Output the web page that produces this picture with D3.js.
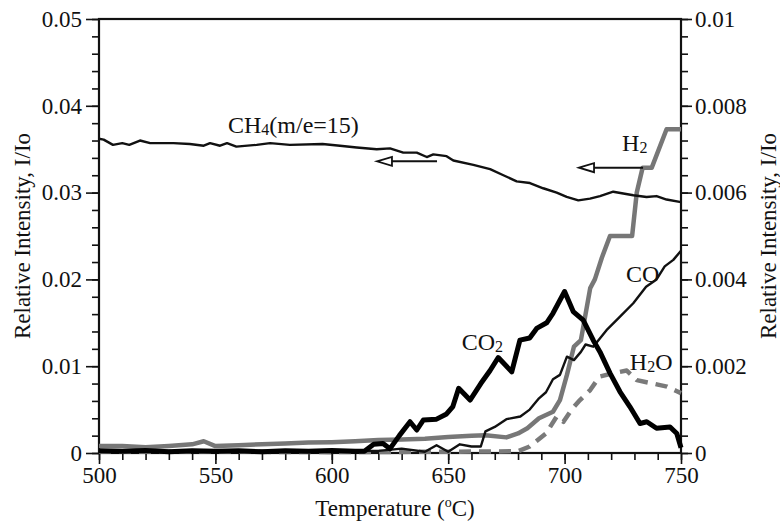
<!DOCTYPE html>
<html>
<head>
<meta charset="utf-8">
<script src="https://cdn.jsdelivr.net/npm/d3@7"></script>
<style>
body { margin: 0; background: #fff; }
text { font-family: "Liberation Serif", "Times New Roman", serif; fill: #111; }
</style>
</head>
<body>
<div id="chart"></div>
<script>
// size
var w = 780;
var h = 526;
var m = {left: 99, right: 99, top: 19, bottom: 73};

// tick values
var xTicks = [500, 550, 600, 650, 700, 750];
var leftTicks = [0, 0.01, 0.02, 0.03, 0.04, 0.05];
var rightTicks = [0, 0.002, 0.004, 0.006, 0.008, 0.01];

// CH4 (m/e=15), left axis: [temperature, I/Io]
var ch4 = [[500, 0.0362], [502, 0.0361], [506, 0.0355], [510, 0.0357], [513, 0.0355], [517.6, 0.036],
    [522, 0.0357], [532, 0.0357], [539, 0.0356], [545, 0.0354], [547.7, 0.0357], [552, 0.0354],
    [555, 0.0357], [559, 0.0353], [567.7, 0.0355], [573.5, 0.0357], [582, 0.0355], [596, 0.0356],
    [603.5, 0.0354], [610.7, 0.0352], [619.3, 0.035], [625, 0.0351], [630.7, 0.0346], [636.5, 0.0346],
    [640.8, 0.0341], [643.6, 0.0344], [649.3, 0.0342], [652.2, 0.0337], [660.8, 0.0332], [668, 0.0327],
    [673.7, 0.032], [679.4, 0.0313], [685.1, 0.0311], [690.8, 0.0305], [696.6, 0.03], [700.9, 0.0295],
    [705.9, 0.0291], [710.9, 0.0293], [715.2, 0.0296], [720.9, 0.0301], [725.2, 0.0299], [729.5, 0.0297],
    [735.2, 0.0295], [739.5, 0.0296], [743.8, 0.0292], [750, 0.0289]];

// H2, right axis
var h2 = [[500, 0.00016], [510, 0.00016], [520, 0.00013], [530, 0.00016], [540, 0.0002], [545, 0.00027],
    [550, 0.00016], [560, 0.00018], [570, 0.0002], [580, 0.00022], [590, 0.00024], [600, 0.00025],
    [610, 0.00027], [620, 0.0003], [630, 0.00031], [640, 0.00033], [650, 0.00037], [660, 0.0004],
    [666, 0.00041], [675, 0.00036], [680, 0.00045], [684, 0.00057], [689, 0.0008], [695, 0.00095],
    [698, 0.00122], [701, 0.0018], [704, 0.00245], [707, 0.0026], [709, 0.0032], [711, 0.0038],
    [713, 0.004], [716, 0.0045], [719.5, 0.005], [729, 0.005], [731, 0.006], [733.5, 0.00657],
    [737.4, 0.00657], [743.8, 0.00746], [750, 0.00746]];

// CO, right axis
var co = [[500, 0.00005], [520, 0.00004], [550, 0.00005], [580, 0.00004], [600, 0.00005], [620, 0.00005],
    [630, 0.0001], [640, 0.00003], [645, 0.00018], [650, 0.00003], [655, 0.0002], [660, 0.00015],
    [664, 0.00015], [666, 0.0005], [670, 0.0006], [675, 0.00078], [681, 0.00084], [685, 0.001],
    [689, 0.00126], [692, 0.0014], [695, 0.0017], [698, 0.0018], [701, 0.00222], [704, 0.00214],
    [707, 0.00233], [709, 0.0025], [712.3, 0.00245], [718, 0.00283], [723.8, 0.00314], [729.5, 0.00345],
    [735, 0.00383], [739.5, 0.004], [743, 0.0043], [746.7, 0.00445], [750, 0.00466]];

// CO2, right axis
var co2 = [[500, 0.00005], [510, 0.00004], [520, 0.00006], [530, 0.00003], [540, 0.00005], [550, 0.00004],
    [560, 0.00005], [570, 0.00003], [580, 0.00005], [590, 0.00004], [600, 0.00006], [610, 0.00004],
    [614, 0.00004], [618, 0.0002], [622, 0.00022], [625, 0.0001], [629, 0.0004], [633.6, 0.00072],
    [636.5, 0.00053], [639.3, 0.00076], [645, 0.00078], [649.3, 0.0009], [652, 0.00107], [654.5, 0.00149],
    [659.4, 0.00122], [664, 0.0016], [668, 0.0019], [671.5, 0.0022], [677.3, 0.00187], [680.8, 0.0026],
    [685, 0.00265], [688, 0.00287], [692.3, 0.003], [695, 0.00322], [700, 0.00372], [703.7, 0.00326],
    [708, 0.00306], [712.3, 0.0026], [715.2, 0.00233], [719.5, 0.00184], [723.8, 0.00141], [728, 0.00107],
    [732.4, 0.00068], [735.3, 0.00072], [739.5, 0.00057], [745.3, 0.0006], [748.2, 0.00045], [750, 0.00012]];

// H2O, right axis
var h2o = [[500, 0.00003], [550, 0.00003], [600, 0.00002], [650, 0.00003], [680, 0.00004], [685, 0.00015],
    [692, 0.00045], [696.6, 0.00084], [699.5, 0.00072], [703, 0.001], [706.6, 0.00122], [711, 0.00145],
    [715, 0.00176], [721, 0.00184], [726.7, 0.0019], [731, 0.00168], [738, 0.0016], [744, 0.00153],
    [748, 0.00143], [750, 0.00138]];

// scales
var x = d3.scaleLinear().domain([500, 750]).range([m.left, w - m.right]);
var yL = d3.scaleLinear().domain([0, 0.05]).range([h - m.bottom, m.top]);
var yR = d3.scaleLinear().domain([0, 0.01]).range([h - m.bottom, m.top]);

var svg = d3.select("#chart").append("svg")
    .attr("width", w)
    .attr("height", h)
    .style("background", "#fff");

var fmt = d => String(+d.toFixed(4));
var fs = 23;

// left axis
svg.append("g")
    .attr("transform", `translate(${m.left},0)`)
    .call(d3.axisLeft(yL).tickValues(d3.range(0, 0.0501, 0.002)).tickSize(7).tickFormat(""))
    .call(g => g.select(".domain").remove());
svg.append("g")
    .attr("transform", `translate(${m.left},0)`)
    .call(d3.axisLeft(yL).tickValues(leftTicks).tickSize(13).tickPadding(4).tickFormat(fmt))
    .call(g => g.select(".domain").remove());

// right axis
svg.append("g")
    .attr("transform", `translate(${w - m.right},0)`)
    .call(d3.axisRight(yR).tickValues(d3.range(0, 0.01001, 0.0004)).tickSize(7).tickFormat(""))
    .call(g => g.select(".domain").remove());
svg.append("g")
    .attr("transform", `translate(${w - m.right},0)`)
    .call(d3.axisRight(yR).tickValues(rightTicks).tickSize(11).tickPadding(3).tickFormat(fmt))
    .call(g => g.select(".domain").remove());

// bottom axis
svg.append("g")
    .attr("transform", `translate(0,${h - m.bottom})`)
    .call(d3.axisBottom(x).tickValues(d3.range(500, 751, 10)).tickSize(7).tickFormat(""))
    .call(g => g.select(".domain").remove());
svg.append("g")
    .attr("transform", `translate(0,${h - m.bottom})`)
    .call(d3.axisBottom(x).tickValues(xTicks).tickSize(11).tickFormat(d => d))
    .call(g => g.select(".domain").remove())
    .selectAll("text").attr("y", 30).attr("dy", null);

svg.selectAll(".tick line").attr("stroke", "#111").attr("stroke-width", 1.6);
svg.selectAll(".tick text").style("font-size", fs + "px")
    .style("font-family", '"Liberation Serif", "Times New Roman", serif').attr("fill", "#111");

// frame
svg.append("rect")
    .attr("x", m.left).attr("y", m.top)
    .attr("width", w - m.left - m.right).attr("height", h - m.top - m.bottom)
    .attr("fill", "none").attr("stroke", "#111").attr("stroke-width", 2.2);

// lines
var lineL = d3.line().x(d => x(d[0])).y(d => yL(d[1]));
var lineR = d3.line().x(d => x(d[0])).y(d => yR(d[1]));

function draw(data, gen, color, width, dash) {
    svg.append("path")
        .datum(data)
        .attr("d", gen)
        .attr("fill", "none")
        .attr("stroke", color)
        .attr("stroke-width", width)
        .attr("stroke-linejoin", "round")
        .attr("stroke-dasharray", dash || null);
}

draw(h2o, lineR, "#7a7a7a", 4.5, "12,8");
draw(h2, lineR, "#777", 4.5);
draw(co, lineR, "#111", 2.4);
draw(ch4, lineL, "#111", 2.4);
draw(co2, lineR, "#000", 5);

// series labels (position in data units)
function label(t, v, scale, parts) {
    var txt = svg.append("text")
        .attr("x", x(t)).attr("y", scale(v))
        .style("font-size", (fs + 1) + "px");
    parts.forEach(p => {
        if (p[1]) {
            txt.append("tspan").attr("font-size", "16px").attr("dy", 2).text(p[0]);
        } else {
            txt.append("tspan").attr("dy", p[2] || 0).text(p[0]);
        }
    });
}
label(555.4, 0.0369, yL, [["CH", 0], ["4", 1], ["(m/e=15)", 0, -2]]);
label(724.7, 0.00695, yR, [["H", 0], ["2", 1]]);
label(726.4, 0.00395, yR, [["CO", 0]]);
label(655.8, 0.00237, yR, [["CO", 0], ["2", 1]]);
label(728, 0.00192, yR, [["H", 0], ["2", 1], ["O", 0, -2]]);

// arrows pointing to the left axis
function arrow(t0, t1, v, scale) {
    var x0 = x(t0), x1 = x(t1), yy = scale(v);
    svg.append("line")
        .attr("x1", x0 + 15).attr("x2", x1)
        .attr("y1", yy).attr("y2", yy)
        .attr("stroke", "#111").attr("stroke-width", 2);
    svg.append("path")
        .attr("d", `M${x0},${yy}L${x0 + 15},${yy - 4.5}L${x0 + 15},${yy + 4.5}Z`)
        .attr("fill", "#fff").attr("stroke", "#111").attr("stroke-width", 1.8);
}
arrow(619.4, 645.2, 0.0336, yL);
arrow(706.2, 733.7, 0.006574, yR);

// axis titles
svg.append("text")
    .attr("transform", `translate(30,${(m.top + h - m.bottom) / 2}) rotate(-90)`)
    .attr("text-anchor", "middle")
    .style("font-size", fs + "px")
    .text("Relative Intensity, I/Io");

svg.append("text")
    .attr("transform", `translate(${w - 4},${(m.top + h - m.bottom) / 2}) rotate(-90)`)
    .attr("text-anchor", "middle")
    .style("font-size", fs + "px")
    .text("Relative Intensity, I/Io");

var xt = svg.append("text")
    .attr("x", 395).attr("y", 516)
    .attr("text-anchor", "middle")
    .style("font-size", fs + "px");
xt.append("tspan").text("Temperature (");
xt.append("tspan").attr("font-size", "14px").attr("dy", -9).text("o");
xt.append("tspan").attr("dy", 9).text("C)");
</script>
</body>
</html>
